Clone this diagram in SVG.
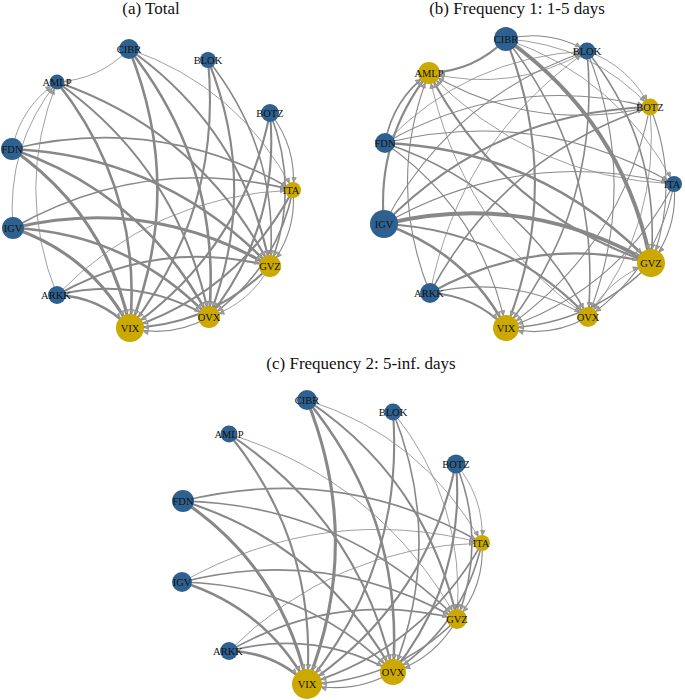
<svg xmlns="http://www.w3.org/2000/svg" width="685" height="700" viewBox="0 0 685 700">
<style>
.title{font-family:"Liberation Serif","Times New Roman",serif;font-size:17px;fill:#111;text-anchor:middle}
.lbl{font-family:"Liberation Serif","Times New Roman",serif;font-size:10.5px;fill:#111;text-anchor:middle}
.blue{fill:#2e6190}
.yel{fill:#cba900}
.edges path{fill:none;stroke:#888;stroke-linecap:round}
.e08{stroke-width:0.8}
.e1{stroke-width:1.1}
.e15{stroke-width:1.6}
.e2{stroke-width:2.1}
.e25{stroke-width:2.6}
.e3{stroke-width:3.1}
.e4{stroke-width:3.9}
.ah{fill:#a0a0a0;stroke:#888;stroke-width:0.7}
</style>
<defs>
<marker id="a8" markerUnits="userSpaceOnUse" markerWidth="10" markerHeight="10" refX="8" refY="0" orient="auto" overflow="visible"><path class="ah" d="M-4.5,-2.2 L0,0 L-4.5,2.2 Z"/></marker>
<marker id="a10" markerUnits="userSpaceOnUse" markerWidth="10" markerHeight="10" refX="10" refY="0" orient="auto" overflow="visible"><path class="ah" d="M-4.5,-2.2 L0,0 L-4.5,2.2 Z"/></marker>
<marker id="a11" markerUnits="userSpaceOnUse" markerWidth="10" markerHeight="10" refX="11" refY="0" orient="auto" overflow="visible"><path class="ah" d="M-4.5,-2.2 L0,0 L-4.5,2.2 Z"/></marker>
<marker id="a13" markerUnits="userSpaceOnUse" markerWidth="10" markerHeight="10" refX="13" refY="0" orient="auto" overflow="visible"><path class="ah" d="M-4.5,-2.2 L0,0 L-4.5,2.2 Z"/></marker>
<marker id="a14" markerUnits="userSpaceOnUse" markerWidth="10" markerHeight="10" refX="14" refY="0" orient="auto" overflow="visible"><path class="ah" d="M-4.5,-2.2 L0,0 L-4.5,2.2 Z"/></marker>
<marker id="a15" markerUnits="userSpaceOnUse" markerWidth="10" markerHeight="10" refX="15" refY="0" orient="auto" overflow="visible"><path class="ah" d="M-4.5,-2.2 L0,0 L-4.5,2.2 Z"/></marker>
</defs>
<rect width="685" height="700" fill="#fff"/>

<g id="panel-a">
<text class="title" x="151" y="14">(a) Total</text>
<g id="a-edges" class="edges">
<path class="e08" marker-end="url(#a8)" d="M129,49 Q99.6,79.9 57,82"/>
<path class="e25" marker-end="url(#a14)" d="M129,49 Q185.3,188.3 130,328"/>
<path class="e25" marker-end="url(#a11)" d="M129,49 Q222.6,167 209,317"/>
<path class="e2" marker-end="url(#a11)" d="M129,49 Q242.9,129.3 270,266"/>
<path class="e08" marker-end="url(#a8)" d="M129,49 Q239.2,86.7 293,190"/>
<path class="e2" marker-end="url(#a14)" d="M208,60 Q222.6,209.6 130,328"/>
<path class="e2" marker-end="url(#a11)" d="M208,60 Q259.9,188.3 209,317"/>
<path class="e15" marker-end="url(#a11)" d="M208,60 Q280.2,150.6 270,266"/>
<path class="e2" marker-end="url(#a14)" d="M270,113 Q243,248.5 130,328"/>
<path class="e2" marker-end="url(#a11)" d="M270,113 Q280.3,227.2 209,317"/>
<path class="e15" marker-end="url(#a11)" d="M270,113 Q300.6,189.5 270,266"/>
<path class="e1" marker-end="url(#a8)" d="M270,113 Q296.9,146.9 293,190"/>
<path class="e25" marker-end="url(#a14)" d="M57,82 Q142.7,190.4 130,328"/>
<path class="e2" marker-end="url(#a11)" d="M57,82 Q180,169.1 209,317"/>
<path class="e2" marker-end="url(#a11)" d="M57,82 Q200.3,131.4 270,266"/>
<path class="e08" marker-end="url(#a8)" d="M12,149 Q21.1,106.5 57,82"/>
<path class="e15" marker-end="url(#a8)" d="M12,149 Q160.7,113.3 293,190"/>
<path class="e25" marker-end="url(#a11)" d="M12,149 Q164.4,155.9 270,266"/>
<path class="e25" marker-end="url(#a11)" d="M12,149 Q144.1,193.6 209,317"/>
<path class="e3" marker-end="url(#a14)" d="M12,149 Q106.8,214.9 130,328"/>
<path class="e08" marker-end="url(#a8)" d="M13,228 Q5.8,146.2 57,82"/>
<path class="e15" marker-end="url(#a8)" d="M13,228 Q145.4,153 293,190"/>
<path class="e3" marker-end="url(#a11)" d="M13,228 Q149.1,195.6 270,266"/>
<path class="e25" marker-end="url(#a11)" d="M13,228 Q128.8,233.3 209,317"/>
<path class="e3" marker-end="url(#a14)" d="M13,228 Q91.5,254.6 130,328"/>
<path class="e08" marker-end="url(#a8)" d="M57,295 Q14.4,188.5 57,82"/>
<path class="e08" marker-end="url(#a8)" d="M57,295 Q154,195.3 293,190"/>
<path class="e2" marker-end="url(#a11)" d="M57,295 Q157.7,237.9 270,266"/>
<path class="e2" marker-end="url(#a11)" d="M57,295 Q137.4,275.6 209,317"/>
<path class="e25" marker-end="url(#a14)" d="M57,295 Q100.1,296.9 130,328"/>
<path class="e1" marker-end="url(#a11)" d="M293,190 Q296.7,232.6 270,266"/>
<path class="e15" marker-end="url(#a11)" d="M293,190 Q276.4,270.3 209,317"/>
<path class="e2" marker-end="url(#a14)" d="M293,190 Q239.1,291.6 130,328"/>
<path class="e08" marker-end="url(#a11)" d="M270,266 Q249.7,303.7 209,317"/>
<path class="e2" marker-end="url(#a14)" d="M270,266 Q212.4,325 130,328"/>
<path class="e1" marker-end="url(#a14)" d="M209,317 Q171.7,338.3 130,328"/>
</g>
<g id="a-CIBR"><circle class="blue" cx="129" cy="49" r="10"/><text class="lbl" x="129" y="52.5">CIBR</text></g>
<g id="a-BLOK"><circle class="blue" cx="208" cy="60" r="8"/><text class="lbl" x="208" y="63.5">BLOK</text></g>
<g id="a-AMLP"><circle class="blue" cx="57" cy="82" r="7.5"/><text class="lbl" x="57" y="85.5">AMLP</text></g>
<g id="a-BOTZ"><circle class="blue" cx="270" cy="113" r="9"/><text class="lbl" x="270" y="116.5">BOTZ</text></g>
<g id="a-FDN"><circle class="blue" cx="12" cy="149" r="11"/><text class="lbl" x="12" y="152.5">FDN</text></g>
<g id="a-ITA"><circle class="yel" cx="293" cy="190" r="8"/><text class="lbl" x="291" y="193.5">ITA</text></g>
<g id="a-IGV"><circle class="blue" cx="13" cy="228" r="11"/><text class="lbl" x="13" y="231.5">IGV</text></g>
<g id="a-GVZ"><circle class="yel" cx="270" cy="266" r="11"/><text class="lbl" x="270" y="269.5">GVZ</text></g>
<g id="a-ARKK"><circle class="blue" cx="57" cy="295" r="9"/><text class="lbl" x="56" y="298.5">ARKK</text></g>
<g id="a-OVX"><circle class="yel" cx="209" cy="317" r="11"/><text class="lbl" x="209" y="320.5">OVX</text></g>
<g id="a-VIX"><circle class="yel" cx="130" cy="328" r="14"/><text class="lbl" x="130" y="331.5">VIX</text></g>
</g>

<g id="panel-b">
<text class="title" x="517" y="14">(b) Frequency 1: 1-5 days</text>
<g id="b-edges" class="edges">
<path class="e2" marker-end="url(#a11)" d="M506,39 Q474.3,71.4 429,73"/>
<path class="e08" marker-end="url(#a11)" d="M587,51 Q512.4,93.6 429,73"/>
<path class="e1" marker-end="url(#a11)" d="M650,107 Q532.7,134.2 429,73"/>
<path class="e15" marker-end="url(#a11)" d="M385,143 Q393,99.2 429,73"/>
<path class="e2" marker-end="url(#a11)" d="M384,224 Q376.3,139.5 429,73"/>
<path class="e1" marker-end="url(#a11)" d="M430,293 Q385.5,183.2 429,73"/>
<path class="e08" marker-end="url(#a11)" d="M674,184 Q529.3,177.5 429,73"/>
<path class="e2" marker-end="url(#a11)" d="M651,263 Q502,212.4 429,73"/>
<path class="e08" marker-end="url(#a11)" d="M588,317 Q459.7,226.8 429,73"/>
<path class="e1" marker-end="url(#a8)" d="M506,39 Q548.9,28.8 587,51"/>
<path class="e08" marker-end="url(#a8)" d="M385,143 Q467.6,56.6 587,51"/>
<path class="e1" marker-end="url(#a8)" d="M384,224 Q450.9,96.9 587,51"/>
<path class="e08" marker-end="url(#a8)" d="M430,293 Q460.1,140.6 587,51"/>
<path class="e08" marker-end="url(#a8)" d="M587,51 Q629.7,66.4 650,107"/>
<path class="e08" marker-end="url(#a8)" d="M506,39 Q591.6,44.2 650,107"/>
<path class="e1" marker-end="url(#a8)" d="M385,143 Q510.3,72 650,107"/>
<path class="e2" marker-end="url(#a8)" d="M384,224 Q493.6,112.3 650,107"/>
<path class="e15" marker-end="url(#a8)" d="M430,293 Q502.8,156 650,107"/>
<path class="e08" marker-end="url(#a8)" d="M506,39 Q619,77.9 674,184"/>
<path class="e1" marker-end="url(#a8)" d="M385,143 Q537.7,105.7 674,184"/>
<path class="e1" marker-end="url(#a8)" d="M384,224 Q521,146 674,184"/>
<path class="e4" marker-end="url(#a14)" d="M506,39 Q623.3,122 651,263"/>
<path class="e15" marker-end="url(#a14)" d="M587,51 Q661.4,144.2 651,263"/>
<path class="e1" marker-end="url(#a14)" d="M650,107 Q681.7,184.8 651,263"/>
<path class="e1" marker-end="url(#a14)" d="M674,184 Q678.3,228.1 651,263"/>
<path class="e25" marker-end="url(#a14)" d="M385,143 Q542,149.8 651,263"/>
<path class="e4" marker-end="url(#a14)" d="M384,224 Q525.3,190.1 651,263"/>
<path class="e2" marker-end="url(#a14)" d="M430,293 Q534.5,233.8 651,263"/>
<path class="e08" marker-end="url(#a14)" d="M588,317 Q608.7,277.4 651,263"/>
<path class="e15" marker-end="url(#a10)" d="M506,39 Q602.6,161.6 588,317"/>
<path class="e1" marker-end="url(#a10)" d="M587,51 Q640.7,183.8 588,317"/>
<path class="e08" marker-end="url(#a10)" d="M650,107 Q661,224.4 588,317"/>
<path class="e15" marker-end="url(#a10)" d="M385,143 Q521.3,189.4 588,317"/>
<path class="e2" marker-end="url(#a10)" d="M384,224 Q504.6,229.7 588,317"/>
<path class="e1" marker-end="url(#a10)" d="M430,293 Q513.8,273.4 588,317"/>
<path class="e1" marker-end="url(#a10)" d="M674,184 Q657.6,267.7 588,317"/>
<path class="e2" marker-end="url(#a13)" d="M506,39 Q563.8,183.5 506,328"/>
<path class="e15" marker-end="url(#a13)" d="M587,51 Q601.9,205.7 506,328"/>
<path class="e1" marker-end="url(#a13)" d="M650,107 Q622.2,246.3 506,328"/>
<path class="e1" marker-end="url(#a13)" d="M385,143 Q482.5,211.3 506,328"/>
<path class="e25" marker-end="url(#a13)" d="M384,224 Q465.8,251.6 506,328"/>
<path class="e2" marker-end="url(#a13)" d="M430,293 Q475,295.3 506,328"/>
<path class="e1" marker-end="url(#a13)" d="M674,184 Q618.8,289.6 506,328"/>
<path class="e15" marker-end="url(#a13)" d="M651,263 Q591.5,324.5 506,328"/>
<path class="e1" marker-end="url(#a13)" d="M588,317 Q549.2,338.9 506,328"/>
</g>
<g id="b-CIBR"><circle class="blue" cx="506" cy="39" r="12"/><text class="lbl" x="506" y="42.5">CIBR</text></g>
<g id="b-BLOK"><circle class="blue" cx="587" cy="51" r="8.5"/><text class="lbl" x="587" y="54.5">BLOK</text></g>
<g id="b-AMLP"><circle class="yel" cx="429" cy="73" r="11"/><text class="lbl" x="429" y="76.5">AMLP</text></g>
<g id="b-BOTZ"><circle class="yel" cx="650" cy="107" r="8.5"/><text class="lbl" x="650" y="110.5">BOTZ</text></g>
<g id="b-FDN"><circle class="blue" cx="385" cy="143" r="10"/><text class="lbl" x="385" y="146.5">FDN</text></g>
<g id="b-ITA"><circle class="blue" cx="674" cy="184" r="8"/><text class="lbl" x="672" y="187.5">ITA</text></g>
<g id="b-IGV"><circle class="blue" cx="384" cy="224" r="14"/><text class="lbl" x="384" y="227.5">IGV</text></g>
<g id="b-GVZ"><circle class="yel" cx="651" cy="263" r="14"/><text class="lbl" x="651" y="266.5">GVZ</text></g>
<g id="b-ARKK"><circle class="blue" cx="430" cy="293" r="10"/><text class="lbl" x="429" y="296.5">ARKK</text></g>
<g id="b-OVX"><circle class="yel" cx="588" cy="317" r="10"/><text class="lbl" x="588" y="320.5">OVX</text></g>
<g id="b-VIX"><circle class="yel" cx="506" cy="328" r="13"/><text class="lbl" x="506" y="331.5">VIX</text></g>
</g>

<g id="panel-c">
<text class="title" x="361" y="369">(c) Frequency 2: 5-inf. days</text>
<g id="c-edges" class="edges">
<path class="e3" marker-end="url(#a15)" d="M307,400 Q363.8,542 307,684"/>
<path class="e25" marker-end="url(#a13)" d="M307,400 Q404.4,518.8 393,672"/>
<path class="e2" marker-end="url(#a10)" d="M307,400 Q425.8,479.5 457,619"/>
<path class="e08" marker-end="url(#a8)" d="M307,400 Q423.1,436.5 482,543"/>
<path class="e2" marker-end="url(#a15)" d="M393,412 Q404.4,565.2 307,684"/>
<path class="e15" marker-end="url(#a13)" d="M393,412 Q445,542 393,672"/>
<path class="e08" marker-end="url(#a10)" d="M393,412 Q466.4,502.7 457,619"/>
<path class="e2" marker-end="url(#a15)" d="M229,434 Q318,543.4 307,684"/>
<path class="e2" marker-end="url(#a13)" d="M229,434 Q358.6,520.2 393,672"/>
<path class="e08" marker-end="url(#a10)" d="M229,434 Q380,480.9 457,619"/>
<path class="e2" marker-end="url(#a15)" d="M456,464 Q425.5,603.8 307,684"/>
<path class="e2" marker-end="url(#a13)" d="M456,464 Q466.1,580.6 393,672"/>
<path class="e15" marker-end="url(#a10)" d="M456,464 Q487.5,541.3 457,619"/>
<path class="e08" marker-end="url(#a8)" d="M456,464 Q484.8,498.3 482,543"/>
<path class="e15" marker-end="url(#a8)" d="M183,501 Q340.9,462.2 482,543"/>
<path class="e15" marker-end="url(#a10)" d="M183,501 Q343.6,505.2 457,619"/>
<path class="e2" marker-end="url(#a13)" d="M183,501 Q322.2,544.5 393,672"/>
<path class="e3" marker-end="url(#a15)" d="M183,501 Q281.6,567.7 307,684"/>
<path class="e08" marker-end="url(#a8)" d="M182,582 Q324.2,502.5 482,543"/>
<path class="e15" marker-end="url(#a10)" d="M182,582 Q326.9,545.5 457,619"/>
<path class="e15" marker-end="url(#a13)" d="M182,582 Q305.5,584.8 393,672"/>
<path class="e25" marker-end="url(#a15)" d="M182,582 Q264.9,608 307,684"/>
<path class="e08" marker-end="url(#a8)" d="M229,651 Q333.9,546.4 482,543"/>
<path class="e15" marker-end="url(#a10)" d="M229,651 Q336.6,589.4 457,619"/>
<path class="e15" marker-end="url(#a13)" d="M229,651 Q315.2,628.7 393,672"/>
<path class="e25" marker-end="url(#a15)" d="M229,651 Q274.6,651.9 307,684"/>
<path class="e1" marker-end="url(#a10)" d="M482,543 Q484.7,586 457,619"/>
<path class="e15" marker-end="url(#a13)" d="M482,543 Q463.3,625.3 393,672"/>
<path class="e15" marker-end="url(#a15)" d="M482,543 Q422.7,648.5 307,684"/>
<path class="e1" marker-end="url(#a13)" d="M457,619 Q435.6,658.3 393,672"/>
<path class="e15" marker-end="url(#a15)" d="M457,619 Q395,681.5 307,684"/>
<path class="e1" marker-end="url(#a15)" d="M393,672 Q352.4,695.2 307,684"/>
</g>
<g id="c-CIBR"><circle class="blue" cx="307" cy="400" r="10"/><text class="lbl" x="307" y="403.5">CIBR</text></g>
<g id="c-BLOK"><circle class="blue" cx="393" cy="412" r="8.5"/><text class="lbl" x="393" y="415.5">BLOK</text></g>
<g id="c-AMLP"><circle class="blue" cx="229" cy="434" r="8.5"/><text class="lbl" x="229" y="437.5">AMLP</text></g>
<g id="c-BOTZ"><circle class="blue" cx="456" cy="464" r="9.5"/><text class="lbl" x="456" y="467.5">BOTZ</text></g>
<g id="c-FDN"><circle class="blue" cx="183" cy="501" r="11"/><text class="lbl" x="183" y="504.5">FDN</text></g>
<g id="c-ITA"><circle class="yel" cx="482" cy="543" r="8"/><text class="lbl" x="481" y="546.5">ITA</text></g>
<g id="c-IGV"><circle class="blue" cx="182" cy="582" r="10"/><text class="lbl" x="182" y="585.5">IGV</text></g>
<g id="c-GVZ"><circle class="yel" cx="457" cy="619" r="10"/><text class="lbl" x="457" y="622.5">GVZ</text></g>
<g id="c-ARKK"><circle class="blue" cx="229" cy="651" r="9"/><text class="lbl" x="228" y="654.5">ARKK</text></g>
<g id="c-OVX"><circle class="yel" cx="393" cy="672" r="13"/><text class="lbl" x="393" y="675.5">OVX</text></g>
<g id="c-VIX"><circle class="yel" cx="307" cy="684" r="15"/><text class="lbl" x="307" y="687.5">VIX</text></g>
</g>
</svg>
